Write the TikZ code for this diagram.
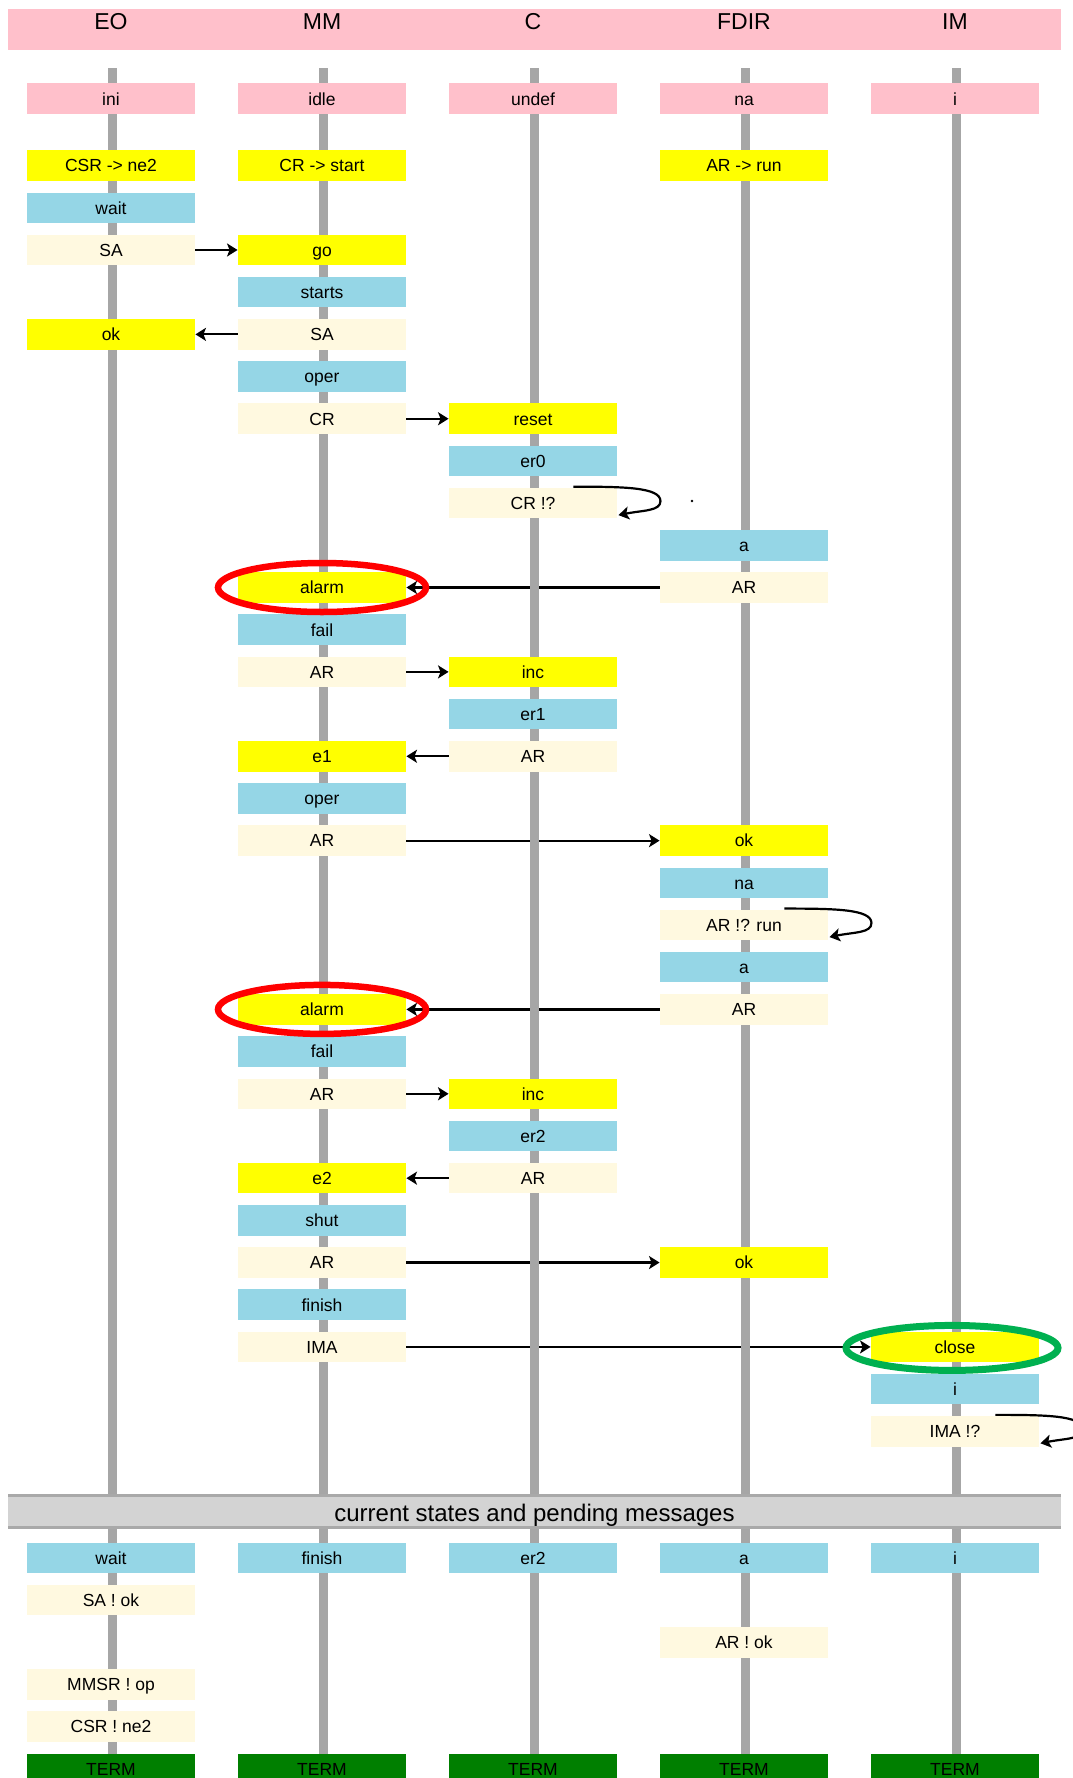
\documentclass[tikz,border=0pt]{standalone}
\usepackage{fontspec}
\setmainfont{Liberation Sans}
\usetikzlibrary{arrows.meta,calc}
\pgfdeclarelayer{bg}
\pgfdeclarelayer{msgs}
\pgfdeclarelayer{life}
\pgfsetlayers{bg,msgs,life,main}

\definecolor{hdpink}{HTML}{FFC0CB}
\definecolor{evyellow}{HTML}{FFFF00}
\definecolor{stblue}{HTML}{95D6E6}
\definecolor{msgcream}{HTML}{FFF9E0}
\definecolor{lifegray}{HTML}{A6A6A6}
\definecolor{sepgray}{HTML}{D3D3D3}
\definecolor{sepedge}{HTML}{A9A9A9}
\definecolor{termgreen}{HTML}{007F00}
\definecolor{ringred}{HTML}{FF0000}
\definecolor{ringgreen}{HTML}{00B050}

% vertical position of row k
\newcommand\rowpos[1]{165.6+42.19*(#1)}

\begin{document}
\begin{tikzpicture}[x=1pt,y=-1pt,
  box/.style={minimum width=168.5pt,minimum height=30.5pt,inner sep=0pt,
    text height=12.6pt,text depth=0pt,font=\fontsize{17.5}{21}\selectfont,text=black},
  inibox/.style={box,fill=hdpink},
  evbox/.style={box,fill=evyellow},
  stbox/.style={box,fill=stblue},
  msgbox/.style={box,fill=msgcream},
  termbox/.style={box,fill=termgreen},
  hdtext/.style={inner sep=0pt,text height=16.5pt,text depth=0pt,font=\fontsize{23}{27}\selectfont},
  lifeline/.style={draw=lifegray,line width=9pt},
  msgline/.style={draw=black,line width=2.2pt,-{Stealth[length=10.5pt,width=13pt,inset=2.5pt]}},
  ring/.style={line width=6.5pt}
]
\useasboundingbox (0,0) rectangle (1073,1778);
\clip (0,0) rectangle (1073,1778);
\begin{pgfonlayer}{bg}
  \fill[white] (0,0) rectangle (1073,1778);
\end{pgfonlayer}

% header bar with process names
\fill[hdpink] (8,9) rectangle (1061,49.5);
\node[hdtext] (hEO) at (111,21.5) {EO};
\node[hdtext] (hMM) at (322,21.5) {MM};
\node[hdtext] (hC)  at (533,21.5) {C};
\node[hdtext] (hFD) at (744,21.5) {FDIR};
\node[hdtext] (hIM) at (955,21.5) {IM};

% lifelines
\begin{pgfonlayer}{life}
  \foreach \lx in {112.5,323.5,534.5,745.5,956.5}
    \draw[lifeline] (\lx,68) -- (\lx,1778);
\end{pgfonlayer}

% initial states
\node[inibox] (iEO) at (111,98.7) {ini};
\node[inibox] (iMM) at (322,98.7) {idle};
\node[inibox] (iC)  at (533,98.7) {undef};
\node[inibox] (iFD) at (744,98.7) {na};
\node[inibox] (iIM) at (955,98.7) {i};

% run
\node[evbox] (csr) at (111,{\rowpos{0}}) {CSR -> ne2};
\node[evbox] (crs) at (322,{\rowpos{0}}) {CR -> start};
\node[evbox] (arr) at (744,{\rowpos{0}}) {AR -> run};

\node[stbox] (waitA) at (111,{\rowpos{1}}) {wait};
\node[msgbox] (saA) at (111,{\rowpos{2}}) {SA};
\node[evbox] (go) at (322,{\rowpos{2}}) {go};
\node[stbox] (starts) at (322,{\rowpos{3}}) {starts};
\node[evbox] (okA) at (111,{\rowpos{4}}) {ok};
\node[msgbox] (saB) at (322,{\rowpos{4}}) {SA};
\node[stbox] (operA) at (322,{\rowpos{5}}) {oper};
\node[msgbox] (crA) at (322,{\rowpos{6}}) {CR};
\node[evbox] (reset) at (533,{\rowpos{6}}) {reset};
\node[stbox] (er0) at (533,{\rowpos{7}}) {er0};
\node[msgbox] (crq) at (533,{\rowpos{8}}) {CR !?};
\node[stbox] (aA) at (744,{\rowpos{9}}) {a};
\node[evbox] (alarmA) at (322,{\rowpos{10}}) {alarm};
\node[msgbox] (arA) at (744,{\rowpos{10}}) {AR};
\node[stbox] (failA) at (322,{\rowpos{11}}) {fail};
\node[msgbox] (arB) at (322,{\rowpos{12}}) {AR};
\node[evbox] (incA) at (533,{\rowpos{12}}) {inc};
\node[stbox] (er1) at (533,{\rowpos{13}}) {er1};
\node[evbox] (e1) at (322,{\rowpos{14}}) {e1};
\node[msgbox] (arC) at (533,{\rowpos{14}}) {AR};
\node[stbox] (operB) at (322,{\rowpos{15}}) {oper};
\node[msgbox] (arD) at (322,{\rowpos{16}}) {AR};
\node[evbox] (okB) at (744,{\rowpos{16}}) {ok};
\node[stbox] (naB) at (744,{\rowpos{17}}) {na};
\node[msgbox] (arq) at (744,{\rowpos{18}}) {AR !? run};
\node[stbox] (aB) at (744,{\rowpos{19}}) {a};
\node[evbox] (alarmB) at (322,{\rowpos{20}}) {alarm};
\node[msgbox] (arE) at (744,{\rowpos{20}}) {AR};
\node[stbox] (failB) at (322,{\rowpos{21}}) {fail};
\node[msgbox] (arF) at (322,{\rowpos{22}}) {AR};
\node[evbox] (incB) at (533,{\rowpos{22}}) {inc};
\node[stbox] (er2) at (533,{\rowpos{23}}) {er2};
\node[evbox] (e2) at (322,{\rowpos{24}}) {e2};
\node[msgbox] (arG) at (533,{\rowpos{24}}) {AR};
\node[stbox] (shut) at (322,{\rowpos{25}}) {shut};
\node[msgbox] (arH) at (322,{\rowpos{26}}) {AR};
\node[evbox] (okC) at (744,{\rowpos{26}}) {ok};
\node[stbox] (finish) at (322,{\rowpos{27}}) {finish};
\node[msgbox] (ima) at (322,{\rowpos{28}}) {IMA};
\node[evbox] (close) at (955,{\rowpos{28}}) {close};
\node[stbox] (iB) at (955,{\rowpos{29}}) {i};
\node[msgbox] (imaq) at (955,{\rowpos{30}}) {IMA !?};

% messages
\begin{pgfonlayer}{msgs}
  \draw[msgline] (saA) -- (go);
  \draw[msgline] (saB) -- (okA);
  \draw[msgline] (crA) -- (reset);
  \draw[msgline] (arA) -- (alarmA);
  \draw[msgline] (arB) -- (incA);
  \draw[msgline] (arC) -- (e1);
  \draw[msgline] (arD) -- (okB);
  \draw[msgline] (arE) -- (alarmB);
  \draw[msgline] (arF) -- (incB);
  \draw[msgline] (arG) -- (e2);
  \draw[msgline] (arH) -- (okC);
  \draw[msgline] (ima) -- (close);
\end{pgfonlayer}

% re-queued messages
\foreach \q in {crq,arq,imaq}
  \draw[msgline] ($(\q.north east)+(-44,-1)$)
    .. controls +(50,0) and +(0,-14) .. ($(\q.east)+(43,-2)$)
    .. controls +(0,10) and +(25,-5) .. ($(\q.east)+(1,12)$);
\fill (692,501) circle (1.3pt);

% highlighted events
\draw[ring,ringred] (alarmA.center) ellipse [x radius=104pt,y radius=24.5pt];
\draw[ring,ringred] (alarmB.center) ellipse [x radius=104pt,y radius=24.5pt];
\draw[ring,ringgreen,line width=7pt] ($(close.center)+(-3,1)$) ellipse [x radius=106pt,y radius=22.5pt];

% summary section
\fill[sepgray] (8,1494) rectangle (1061,1529);
\draw[sepedge,line width=3pt] (8,1495.5) -- (1061,1495.5);
\draw[sepedge,line width=3pt] (8,1527.5) -- (1061,1527.5);
\node[inner sep=0pt,text height=17pt,text depth=0pt,font=\fontsize{24}{28}\selectfont] (summary) at (534.5,1513) {current states and pending messages};

\node[stbox] (cEO) at (111,{\rowpos{33}}) {wait};
\node[stbox] (cMM) at (322,{\rowpos{33}}) {finish};
\node[stbox] (cC)  at (533,{\rowpos{33}}) {er2};
\node[stbox] (cFD) at (744,{\rowpos{33}}) {a};
\node[stbox] (cIM) at (955,{\rowpos{33}}) {i};

\node[msgbox] (pSA)   at (111,{\rowpos{34}}) {SA ! ok};
\node[msgbox] (pAR)   at (744,{\rowpos{35}}) {AR ! ok};
\node[msgbox] (pMMSR) at (111,{\rowpos{36}}) {MMSR ! op};
\node[msgbox] (pCSR)  at (111,{\rowpos{37}}) {CSR ! ne2};

\node[termbox] (tEO) at (111,{\rowpos{38}}) {TERM};
\node[termbox] (tMM) at (322,{\rowpos{38}}) {TERM};
\node[termbox] (tC)  at (533,{\rowpos{38}}) {TERM};
\node[termbox] (tFD) at (744,{\rowpos{38}}) {TERM};
\node[termbox] (tIM) at (955,{\rowpos{38}}) {TERM};
\end{tikzpicture}
\end{document}
